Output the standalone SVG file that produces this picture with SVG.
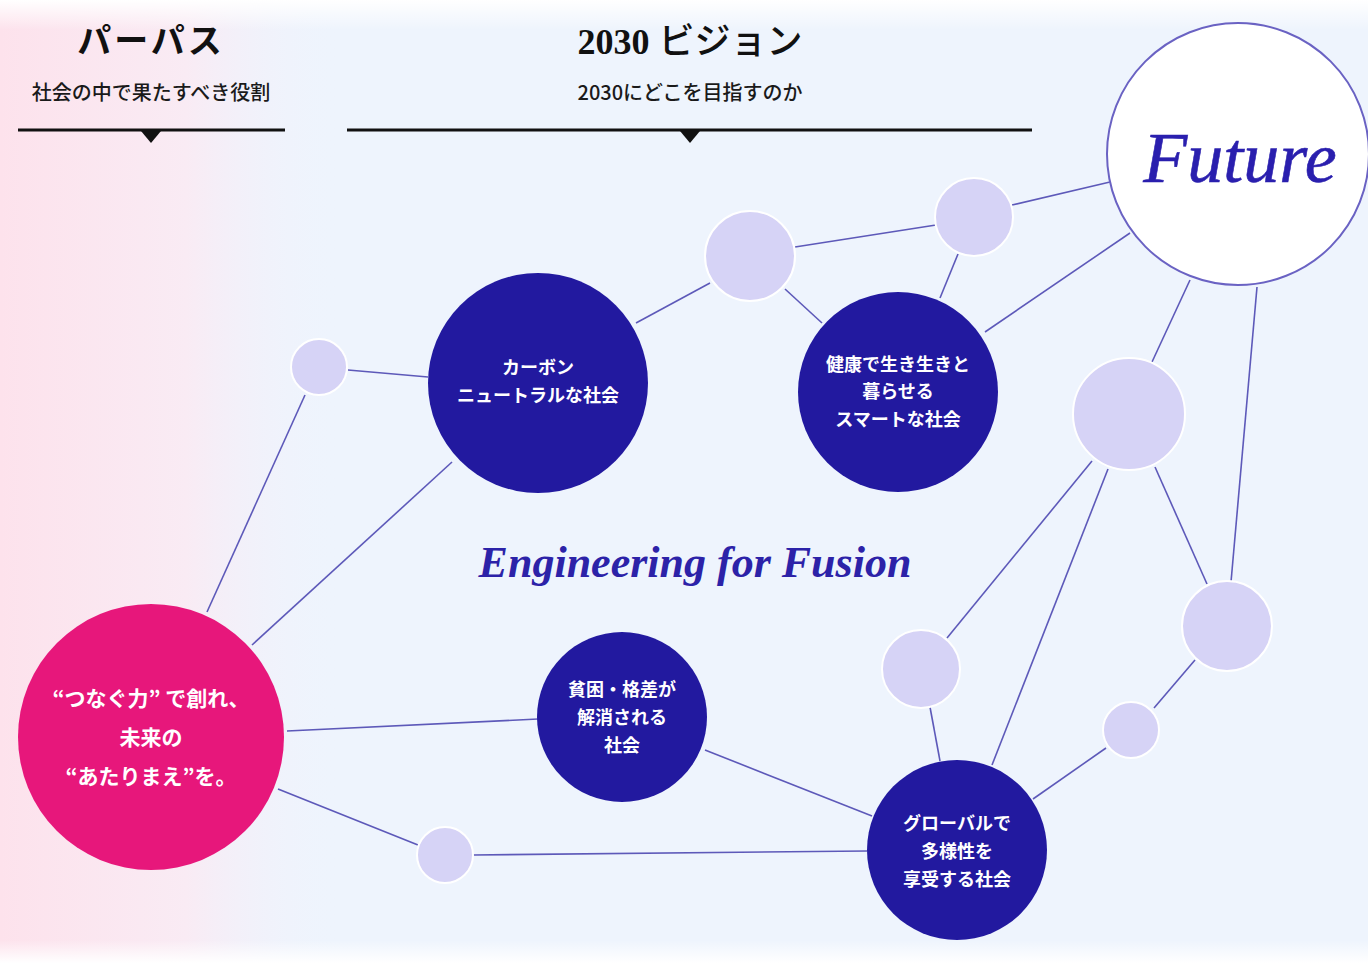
<svg xmlns="http://www.w3.org/2000/svg" width="1368" height="963" viewBox="0 0 1368 963">
<defs>
<linearGradient id="pinkfade" x1="0" y1="0" x2="1" y2="0">
<stop offset="0" stop-color="#fde2ec"/>
<stop offset="0.55" stop-color="#f9ebf4"/>
<stop offset="1" stop-color="#eef4fd" stop-opacity="0"/>
</linearGradient>
<linearGradient id="topfade" x1="0" y1="0" x2="0" y2="1">
<stop offset="0" stop-color="#ffffff"/>
<stop offset="1" stop-color="#ffffff" stop-opacity="0"/>
</linearGradient>
<linearGradient id="botfade" x1="0" y1="1" x2="0" y2="0">
<stop offset="0" stop-color="#ffffff"/>
<stop offset="1" stop-color="#ffffff" stop-opacity="0"/>
</linearGradient>
<style>
.ln{stroke:#5d59b9;stroke-width:1.6;fill:none}
.dk{fill:#22199f}
.lt{fill:#d6d3f6;stroke:#ffffff;stroke-width:2}
.wt{fill:#ffffff;font-family:"Noto Sans CJK JP",sans-serif;font-weight:700;text-anchor:middle}
.sub{fill:#1a1a1a;font-family:"Noto Sans CJK JP",sans-serif;font-weight:500;font-size:20px;text-anchor:middle}
.ttl{fill:#111111;font-family:"Liberation Serif","Noto Sans CJK JP",serif;font-weight:700;text-anchor:middle}
</style>
</defs>
<rect x="0" y="0" width="1368" height="963" fill="#eef4fd"/>
<rect x="0" y="0" width="340" height="963" fill="url(#pinkfade)"/>
<rect x="0" y="0" width="1368" height="30" fill="url(#topfade)"/>
<rect x="0" y="940" width="1368" height="23" fill="url(#botfade)"/>

<g id="header">
<text class="ttl" x="151" y="53" font-size="34" letter-spacing="3" font-family="Noto Sans CJK JP,sans-serif">パーパス</text>
<text class="sub" x="151" y="100">社会の中で果たすべき役割</text>
<line x1="18" y1="130" x2="285" y2="130" stroke="#111" stroke-width="3"/>
<polygon points="141,131 161,131 151,143" fill="#111"/>
<text class="ttl" x="690" y="54" font-size="36"><tspan font-family="Liberation Serif,serif">2030 </tspan><tspan font-family="Noto Sans CJK JP,sans-serif" font-weight="500">ビジョン</tspan></text>
<text class="sub" x="690" y="100">2030にどこを目指すのか</text>
<line x1="347" y1="130" x2="1032" y2="130" stroke="#111" stroke-width="3"/>
<polygon points="680,131 700,131 690,143" fill="#111"/>
</g>

<g id="connectors">
<line class="ln" x1="207" y1="612" x2="305" y2="395"/>
<line class="ln" x1="252" y1="645" x2="452" y2="462"/>
<line class="ln" x1="287" y1="731" x2="538" y2="719"/>
<line class="ln" x1="278" y1="789" x2="418" y2="845"/>
<line class="ln" x1="348" y1="370" x2="428" y2="377"/>
<line class="ln" x1="636" y1="323" x2="710" y2="283"/>
<line class="ln" x1="785" y1="289" x2="822" y2="323"/>
<line class="ln" x1="795" y1="247" x2="936" y2="225"/>
<line class="ln" x1="1012" y1="205" x2="1110" y2="182"/>
<line class="ln" x1="958" y1="254" x2="940" y2="298"/>
<line class="ln" x1="985" y1="332" x2="1130" y2="233"/>
<line class="ln" x1="1190" y1="280" x2="1152" y2="362"/>
<line class="ln" x1="1257" y1="287" x2="1231" y2="582"/>
<line class="ln" x1="1092" y1="461" x2="947" y2="638"/>
<line class="ln" x1="1108" y1="469" x2="992" y2="765"/>
<line class="ln" x1="1155" y1="467" x2="1207" y2="584"/>
<line class="ln" x1="930" y1="707" x2="940" y2="761"/>
<line class="ln" x1="1195" y1="660" x2="1154" y2="708"/>
<line class="ln" x1="1106" y1="748" x2="1033" y2="799"/>
<line class="ln" x1="705" y1="750" x2="872" y2="816"/>
<line class="ln" x1="473" y1="855" x2="867" y2="851"/>
</g>

<g id="node-future">
<circle cx="1238" cy="154" r="131" fill="#ffffff" stroke="#6a62c3" stroke-width="2"/>
<text x="1240" y="182" font-family="Liberation Serif,serif" font-style="italic" font-size="72" fill="#2a1fae" text-anchor="middle" stroke="#2a1fae" stroke-width="0.6">Future</text>
</g>

<g id="node-s1"><circle class="lt" cx="319" cy="367" r="28"/></g>
<g id="node-s2"><circle class="lt" cx="750" cy="256" r="45"/></g>
<g id="node-s3"><circle class="lt" cx="974" cy="217" r="39"/></g>
<g id="node-s4"><circle class="lt" cx="1129" cy="414" r="56"/></g>
<g id="node-s5"><circle class="lt" cx="1227" cy="626" r="45"/></g>
<g id="node-s6"><circle class="lt" cx="921" cy="669" r="39"/></g>
<g id="node-s7"><circle class="lt" cx="1131" cy="730" r="28"/></g>
<g id="node-s8"><circle class="lt" cx="445" cy="855" r="28"/></g>

<g id="node-purpose">
<circle cx="151" cy="737" r="133" fill="#e7177b"/>
<text class="wt" font-size="21"><tspan x="151" y="706">“つなぐ力” で創れ、</tspan><tspan x="151" y="745">未来の</tspan><tspan x="151" y="784">“あたりまえ”を。</tspan></text>
</g>

<g id="node-carbon">
<circle class="dk" cx="538" cy="383" r="110"/>
<text class="wt" font-size="18"><tspan x="538" y="374">カーボン</tspan><tspan x="538" y="402">ニュートラルな社会</tspan></text>
</g>

<g id="node-health">
<circle class="dk" cx="898" cy="392" r="100"/>
<text class="wt" font-size="18"><tspan x="898" y="371">健康で生き生きと</tspan><tspan x="898" y="398">暮らせる</tspan><tspan x="898" y="426">スマートな社会</tspan></text>
</g>

<g id="node-poverty">
<circle class="dk" cx="622" cy="717" r="85"/>
<text class="wt" font-size="18"><tspan x="622" y="696">貧困・格差が</tspan><tspan x="622" y="724">解消される</tspan><tspan x="622" y="752">社会</tspan></text>
</g>

<g id="node-global">
<circle class="dk" cx="957" cy="850" r="90"/>
<text class="wt" font-size="18"><tspan x="957" y="830">グローバルで</tspan><tspan x="957" y="858">多様性を</tspan><tspan x="957" y="886">享受する社会</tspan></text>
</g>

<g id="tagline">
<text x="695" y="577" font-family="Liberation Serif,serif" font-style="italic" font-weight="700" font-size="44" fill="#2c22a8" text-anchor="middle">Engineering for Fusion</text>
</g>
</svg>
